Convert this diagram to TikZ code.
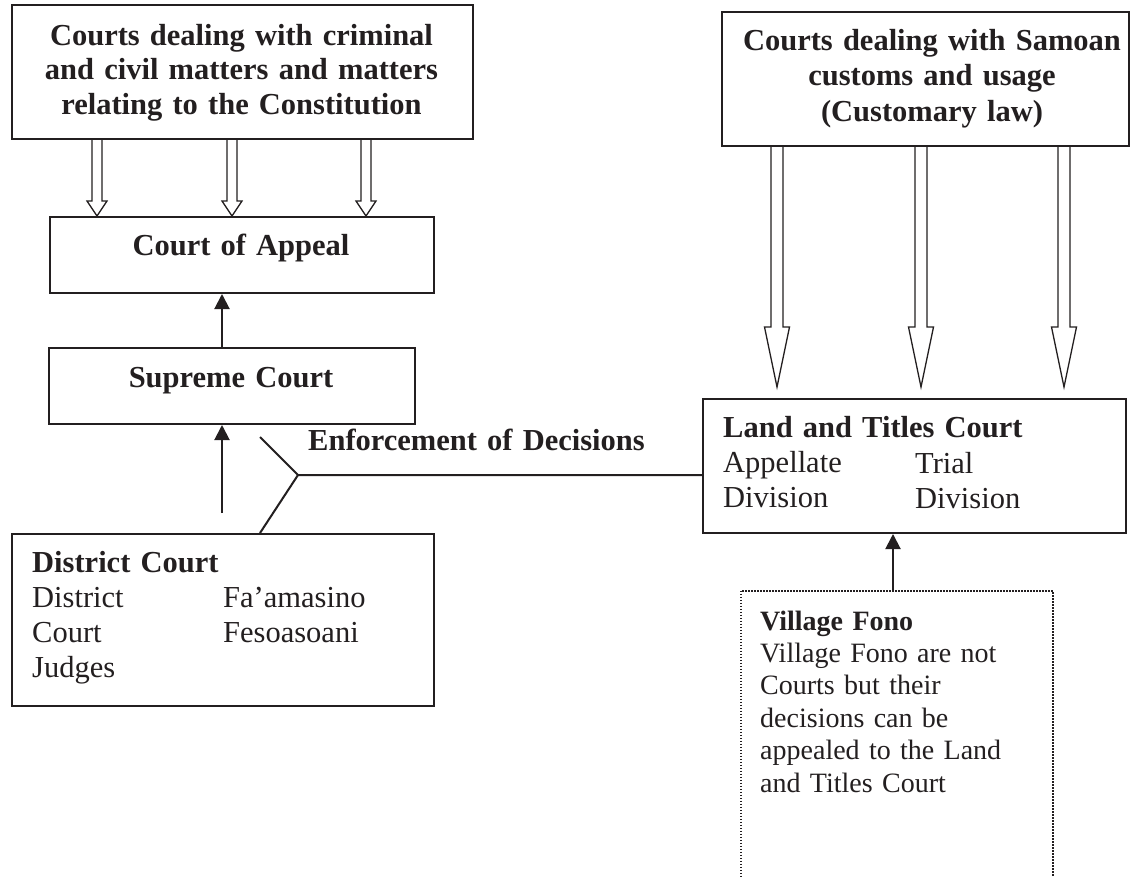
\documentclass[tikz,border=0pt]{standalone}
\usepackage{fontspec}
\setmainfont{Liberation Serif}
\usetikzlibrary{arrows.meta,calc}
\definecolor{ink}{RGB}{35,31,32}
% hollow block arrow from node #1 (south) to node #2 (north)
% #3 x, #4 shaft half width, #5 head half width, #6 head length, #7 gap before target
\newcommand\hollowdown[7]{%
  \draw[hollow] let \p1=(#1.south), \p2=(#2.north) in
    ({(#3-#4)*1pt},\y1) -- ({(#3-#4)*1pt},{\y2+(#7+#6)*1pt})
    -- ({(#3-#5)*1pt},{\y2+(#7+#6)*1pt}) -- ({#3*1pt},{\y2+#7*1pt})
    -- ({(#3+#5)*1pt},{\y2+(#7+#6)*1pt}) -- ({(#3+#4)*1pt},{\y2+(#7+#6)*1pt})
    -- ({(#3+#4)*1pt},\y1);}
\begin{document}
\begin{tikzpicture}[x=1pt,y=-1pt,
  box/.style={draw=ink, line width=2pt, inner sep=0pt, anchor=north west},
  vbox/.style={draw=ink, line width=1.6pt, dash pattern=on 1.5pt off 1.5pt, inner sep=0pt, anchor=north west},
  ttl/.style={font=\fontsize{30.5}{34.5}\selectfont\bfseries, text=ink, align=center, text width=470pt, inner sep=0pt, anchor=base},
  ttlb/.style={ttl, font=\fontsize{30.5}{35.5}\selectfont\bfseries},
  txt/.style={font=\fontsize{30.5}{35.2}\selectfont, text=ink, align=left, text width=330pt, inner sep=0pt, anchor=base west},
  vtxt/.style={font=\fontsize{28}{32.4}\selectfont, text=ink, align=left, text width=290pt, inner sep=0pt, anchor=base west},
  hollow/.style={draw=ink, line width=1.3pt, fill=white},
  sarrow/.style={draw=ink, line width=2pt, -{Triangle[length=15pt,width=15pt]}},
  conn/.style={draw=ink, line width=2pt}]
\fill[white] (0,0) rectangle (1134,876);
\useasboundingbox (0,0) rectangle (1134,876);

% boxes
\node[box, minimum width=461pt, minimum height=134pt] (A) at (11,4) {};
\node[box, minimum width=384pt, minimum height=76pt] (CoA) at (49,216) {};
\node[box, minimum width=366pt, minimum height=76pt] (Sup) at (48,347) {};
\node[box, minimum width=422pt, minimum height=172pt] (Dist) at (11,533) {};
\node[box, minimum width=407pt, minimum height=134pt] (B) at (721,11) {};
\node[box, minimum width=423pt, minimum height=134pt] (Land) at (702,398) {};
\node[vbox, minimum width=312pt, minimum height=330pt] (Vil) at (740,590) {};

% texts
\node[ttl] (Atxt) at (241.5,45) {Courts dealing with criminal\\and civil matters and matters\\relating to the Constitution};
\node[ttlb] (Btxt) at (932,50) {Courts dealing with Samoan\\customs and usage\\(Customary law)};
\node[ttl] (CoAtxt) at (241,255) {Court of Appeal};
\node[ttl] (Suptxt) at (231,387) {Supreme Court};
\node[txt, text width=420pt, font=\fontsize{30.5}{35.2}\selectfont\bfseries] (Enf) at (308,450) {Enforcement of Decisions};
\node[txt] (Dtxt) at (32,572) {\textbf{District Court}\\District\\Court\\Judges};
\node[txt] (Dtxt2) at (223,607) {Fa’amasino\\Fesoasoani};
\node[txt] (Ltxt) at (723,437) {\textbf{Land and Titles Court}\\Appellate\\Division};
\node[txt] (Ltxt2) at (915,473) {Trial\\Division};
\node[vtxt] (Vtxt) at (760,630) {\textbf{Village Fono}\\Village Fono are not\\Courts but their\\decisions can be\\appealed to the Land\\and Titles Court};

% hollow arrows
\hollowdown{A}{CoA}{97}{5}{10}{15}{0}
\hollowdown{A}{CoA}{232}{5}{10}{15}{0}
\hollowdown{A}{CoA}{366}{5}{10}{15}{0}
\hollowdown{B}{Land}{777}{6}{12.5}{60}{11}
\hollowdown{B}{Land}{921}{6}{12.5}{60}{11}
\hollowdown{B}{Land}{1064}{6}{12.5}{60}{11}

% solid arrows
\coordinate (lx) at (222,0);
\draw[sarrow] (Sup.north -| lx) -- (CoA.south -| lx);
\coordinate (dstart) at (222,513);
\draw[sarrow] (dstart) -- (Sup.south -| dstart);
\coordinate (vx) at (893,0);
\draw[sarrow] (Vil.north -| vx) -- (Land.south -| vx);

% enforcement connector
\coordinate (e1) at (260,437);
\coordinate (ev) at (298,475);
\coordinate (e2) at (260,0);
\draw[conn] (e1) -- (ev) -- (ev -| Land.west);
\draw[conn] (ev) -- (Dist.north -| e2);
\end{tikzpicture}
\end{document}
